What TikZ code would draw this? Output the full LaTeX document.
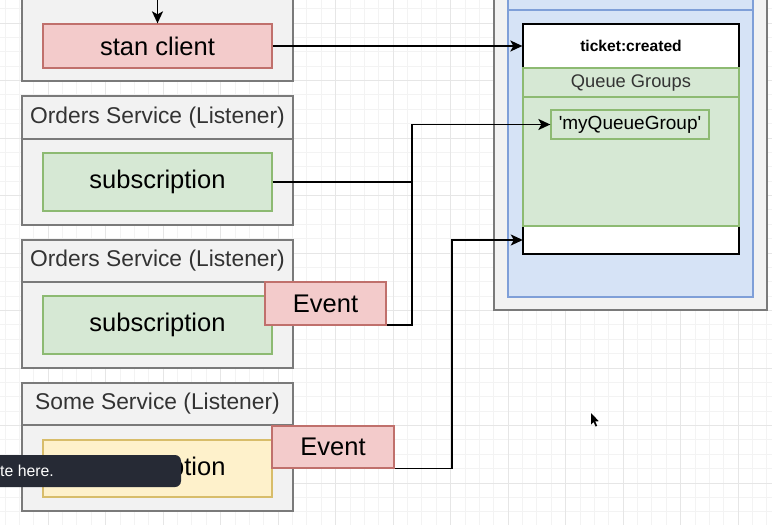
\documentclass[tikz,border=0pt]{standalone}
\usepackage{fontspec}
\setmainfont{Liberation Sans}
\newfontfamily\straightsans{Liberation Sans}[Ligatures=TeXOff]
\usetikzlibrary{arrows.meta}

\definecolor{gridminor}{HTML}{F3F3F3}
\definecolor{gridmajor}{HTML}{E6E6E6}
\definecolor{svcfill}{HTML}{F2F2F2}
\definecolor{svcdraw}{HTML}{7A7A7A}
\definecolor{redfill}{HTML}{F3CBCB}
\definecolor{reddraw}{HTML}{C0706C}
\definecolor{greenfill}{HTML}{D6E8D4}
\definecolor{greendraw}{HTML}{8DBA72}
\definecolor{yellowfill}{HTML}{FEF1CB}
\definecolor{yellowdraw}{HTML}{D8BD6A}
\definecolor{bluefill}{HTML}{D6E3F6}
\definecolor{bluedraw}{HTML}{7F9FD8}
\definecolor{headtext}{HTML}{333333}
\definecolor{tipfill}{HTML}{262A35}

\tikzset{
  box/.style={draw, inner sep=0pt, line width=1.3pt},
  service/.style={box, fill=svcfill, draw=svcdraw},
  redbox/.style={box, fill=redfill, draw=reddraw, font=\fontsize{25.5}{30}\selectfont},
  greenbox/.style={box, fill=greenfill, draw=greendraw},
  yellowbox/.style={box, fill=yellowfill, draw=yellowdraw, font=\fontsize{25.5}{30}\selectfont},
  header/.style={inner sep=0pt, text=headtext, font=\fontsize{22.8}{26}\selectfont},
  conn/.style={line width=1.8pt, -{Stealth[length=12pt,width=11pt,inset=3pt]}},
  wire/.style={line width=1.8pt},
}

\begin{document}
\begin{tikzpicture}[x=1pt,y=-1pt]
\useasboundingbox (0,0) rectangle (772,525);
\clip (0,0) rectangle (772,525);

% canvas grid
\fill[white] (0,0) rectangle (772,525);
\foreach \i in {0,...,54} {
  \draw[gridminor, line width=0.8pt] ({4.9+\i*14.375},0) -- ++(0,525);
}
\foreach \i in {0,...,37} {
  \draw[gridminor, line width=0.8pt] (0,{8.6+\i*14.375}) -- ++(772,0);
}
\foreach \i in {0,...,13} {
  \draw[gridmajor, line width=0.9pt] ({48+\i*57.5},0) -- ++(0,525);
}
\foreach \i in {0,...,9} {
  \draw[gridmajor, line width=0.9pt] (0,{23+\i*57.5}) -- ++(772,0);
}

% ---- publisher service (top, cut by the frame) ----
\node[service, minimum width=271pt, minimum height=96pt] (pub) at (157.5,33) {};
\node[redbox, minimum width=229pt, minimum height=44pt] (stan) at (157.5,46) {stan client};
\coordinate (feed) at (157.5,0);
\draw[conn] (feed) -- (stan.north);

% ---- Orders Service #1 ----
\node[service, minimum width=271pt, minimum height=129pt] (ord1) at (157.5,160.5) {};
\draw[svcdraw, line width=1.3pt] (22,139) -- (293,139);
\node[header] (ord1h) at (157.5,117.5) {Orders Service (Listener)};
\node[greenbox, minimum width=229pt, minimum height=58pt, font=\fontsize{25.5}{30}\selectfont] (sub1) at (157.5,182) {subscription};

% ---- Orders Service #2 ----
\node[service, minimum width=271pt, minimum height=128pt] (ord2) at (157.5,304) {};
\draw[svcdraw, line width=1.3pt] (22,282) -- (293,282);
\node[header] (ord2h) at (157.5,261) {Orders Service (Listener)};
\node[greenbox, minimum width=229pt, minimum height=58pt, font=\fontsize{25.5}{30}\selectfont] (sub2) at (157.5,325) {subscription};

% ---- Some Service ----
\node[service, minimum width=271pt, minimum height=128pt] (some) at (157.5,447) {};
\draw[svcdraw, line width=1.3pt] (22,425) -- (293,425);
\node[header] (someh) at (157.5,404) {Some Service (Listener)};
\node[yellowbox, minimum width=229pt, minimum height=57pt] (sub3) at (157.5,468.5) {subscription};

% ---- NATS streaming server ----
\node[box, fill=svcfill, draw=svcdraw, minimum width=273pt, minimum height=330pt] (server) at (630.5,145) {};
\node[box, fill=bluefill, draw=bluedraw, minimum width=245pt, minimum height=317pt] (chan) at (630.5,138.5) {};
\draw[bluedraw, line width=1.3pt] (508,10) -- (753,10);
\node[box, fill=white, draw=black, minimum width=216pt, minimum height=230pt] (topic) at (631,139) {};
\node[inner sep=0pt, font=\bfseries\fontsize{15.6}{18}\selectfont] (topich) at (631,46) {ticket:created};
\node[greenbox, minimum width=216pt, minimum height=158pt] (qgroups) at (631,147) {};
\draw[greendraw, line width=1.3pt] (523,97) -- (739,97);
\node[inner sep=0pt, text=headtext, font=\fontsize{18.3}{22}\selectfont] (qgh) at (631,83) {Queue Groups};
\node[greenbox, minimum width=158pt, minimum height=29pt, font=\straightsans\fontsize{19}{22}\selectfont] (mqg) at (630,124.5) {'myQueueGroup'};
\node[inner sep=0pt, minimum width=216pt, minimum height=28pt] (slot) at (631,240) {};

% ---- connectors ----
\coordinate (bus1) at (412,0);
\coordinate (bus2) at (452,0);
\draw[conn] (stan.east) -- (stan.east -| topic.west);
\draw[conn] (sub1.east) -- (sub1.east -| bus1) |- (mqg.west);
\draw[wire] (sub2.east) -- (sub2.east -| bus1) -- (sub1.east -| bus1);
\draw[conn] (sub3.east) -- (sub3.east -| bus2) |- (slot.west);

% ---- event tags ----
\node[redbox, minimum width=121pt, minimum height=43pt] (ev1) at (325.5,303.5) {Event};
\node[redbox, minimum width=122pt, minimum height=42pt] (ev2) at (333,447) {Event};

% ---- tooltip and pointer ----
\node[fill=tipfill, rounded corners=6pt, minimum width=195pt, minimum height=32pt, inner sep=0pt] (tip) at (83.5,471) {};
\node[anchor=west, inner sep=0pt, text=white, font=\fontsize{15.8}{18}\selectfont] (tipt) at (0,470.5) {te here.};
\fill[black] (591,413) -- (591,424.5) -- (593.6,422) -- (595.6,426.5) -- (597.2,425.8) -- (595.2,421.4) -- (598.8,421.2) -- cycle;
\end{tikzpicture}
\end{document}
